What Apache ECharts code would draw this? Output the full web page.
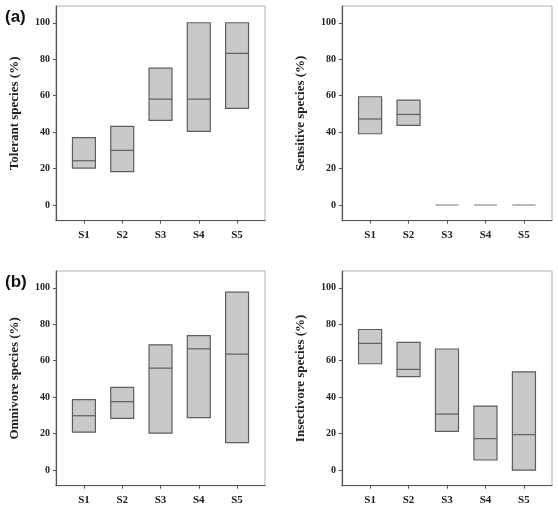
<!DOCTYPE html>
<html>
<head>
<meta charset="utf-8">
<script src="https://cdn.jsdelivr.net/npm/echarts@6/dist/echarts.min.js"></script>
<style>
  html, body { margin: 0; padding: 0; background: #fff; }
  #chart { width: 558px; height: 512px; }
</style>
</head>
<body>
<div id="chart"></div>
<script>
const categories = ['S1', 'S2', 'S3', 'S4', 'S5'];
const yTicks = [0, 20, 40, 60, 80, 100];

const tolerantLow = [20.3, 18.3, 46.4, 40.4, 53];
const tolerantMedian = [24.3, 30, 58.1, 58.1, 83.2];
const tolerantHigh = [37, 43.1, 75.1, 100, 100];

const sensitiveLow = [39.1, 43.7, 0, 0, 0];
const sensitiveMedian = [47.2, 49.7, 0, 0, 0];
const sensitiveHigh = [59.4, 57.6, 0, 0, 0];

const omnivoreLow = [20.8, 28.3, 20.3, 28.7, 15];
const omnivoreMedian = [29.8, 37.5, 55.9, 66.5, 63.6];
const omnivoreHigh = [38.6, 45.3, 68.7, 73.7, 97.6];

const insectivoreLow = [58.3, 51.2, 21.2, 5.5, 0];
const insectivoreMedian = [69.5, 55.2, 30.7, 17.2, 19.4];
const insectivoreHigh = [77.1, 70, 66.4, 35.1, 53.9];

const panels = [
  { name: 'Tolerant species (%)', low: tolerantLow, med: tolerantMedian, high: tolerantHigh, left: 56, top: 6, width: 209 },
  { name: 'Sensitive species (%)', low: sensitiveLow, med: sensitiveMedian, high: sensitiveHigh, left: 342, top: 6, width: 210 },
  { name: 'Omnivore species (%)', low: omnivoreLow, med: omnivoreMedian, high: omnivoreHigh, left: 56, top: 271, width: 209 },
  { name: 'Insectivore species (%)', low: insectivoreLow, med: insectivoreMedian, high: insectivoreHigh, left: 342, top: 271, width: 210 }
];

const serif = '"Liberation Serif", "Times New Roman", serif';
const tickValues = categories.map((c, i) => i + 1);

function renderBox(params, api) {
  const x = api.value(0);
  const lo = api.coord([x, api.value(1)]);
  const md = api.coord([x, api.value(2)]);
  const hi = api.coord([x, api.value(3)]);
  const w = api.size([1, 0])[0] * 0.6;
  const flat = api.value(3) === api.value(1);
  if (flat) {
    return {
      type: 'line',
      shape: { x1: lo[0] - w / 2, y1: lo[1], x2: lo[0] + w / 2, y2: lo[1] },
      style: { stroke: '#8a8a8a', lineWidth: 1.2 }
    };
  }
  return {
    type: 'group',
    children: [
      {
        type: 'rect',
        shape: { x: lo[0] - w / 2, y: hi[1], width: w, height: lo[1] - hi[1] },
        style: { fill: '#c9c9c9', stroke: '#5e5e5e', lineWidth: 1.2 }
      },
      {
        type: 'line',
        shape: { x1: md[0] - w / 2, y1: md[1], x2: md[0] + w / 2, y2: md[1] },
        style: { stroke: '#5e5e5e', lineWidth: 1.2 }
      }
    ]
  };
}

const option = {
  animation: false,
  title: [
    { text: '(a)', left: 0, top: 4, textStyle: { fontFamily: '"Liberation Sans", Arial, sans-serif', fontWeight: 'bold', fontSize: 17, color: '#111' } },
    { text: '(b)', left: 0, top: 269, textStyle: { fontFamily: '"Liberation Sans", Arial, sans-serif', fontWeight: 'bold', fontSize: 17, color: '#111' } }
  ],
  grid: panels.map(p => ({
    left: p.left, top: p.top, width: p.width, height: 214.7,
    show: true, borderColor: '#b0b0b0', borderWidth: 1
  })),
  xAxis: panels.map((p, i) => ({
    type: 'value', gridIndex: i, min: 0.27, max: 5.73,
    splitLine: { show: false },
    axisLine: { show: true, onZero: false, lineStyle: { color: '#555', width: 1.2 } },
    axisTick: { show: true, length: 3, customValues: tickValues, lineStyle: { color: '#555' } },
    axisLabel: {
      customValues: tickValues, margin: 9,
      formatter: v => categories[v - 1] || '',
      fontFamily: serif, fontWeight: 'bold', fontSize: 11, color: '#222'
    }
  })),
  yAxis: panels.map((p, i) => ({
    type: 'value', gridIndex: i, min: -8.6, max: 109.2,
    name: p.name, nameLocation: 'middle', nameGap: 35,
    nameTextStyle: { fontFamily: serif, fontWeight: 'bold', fontSize: 13, color: '#222' },
    splitLine: { show: false },
    axisLine: { show: true, onZero: false, lineStyle: { color: '#555', width: 1.2 } },
    axisTick: { show: true, length: 3, customValues: yTicks, lineStyle: { color: '#555' } },
    axisLabel: {
      customValues: yTicks, margin: 6,
      fontFamily: serif, fontWeight: 'bold', fontSize: 10, color: '#222'
    }
  })),
  series: panels.map((p, i) => ({
    type: 'custom', xAxisIndex: i, yAxisIndex: i,
    renderItem: renderBox,
    encode: { x: 0, y: [1, 2, 3] },
    data: categories.map((c, k) => [k + 1, p.low[k], p.med[k], p.high[k]])
  }))
};

echarts.init(document.getElementById('chart')).setOption(option);
</script>
</body>
</html>
